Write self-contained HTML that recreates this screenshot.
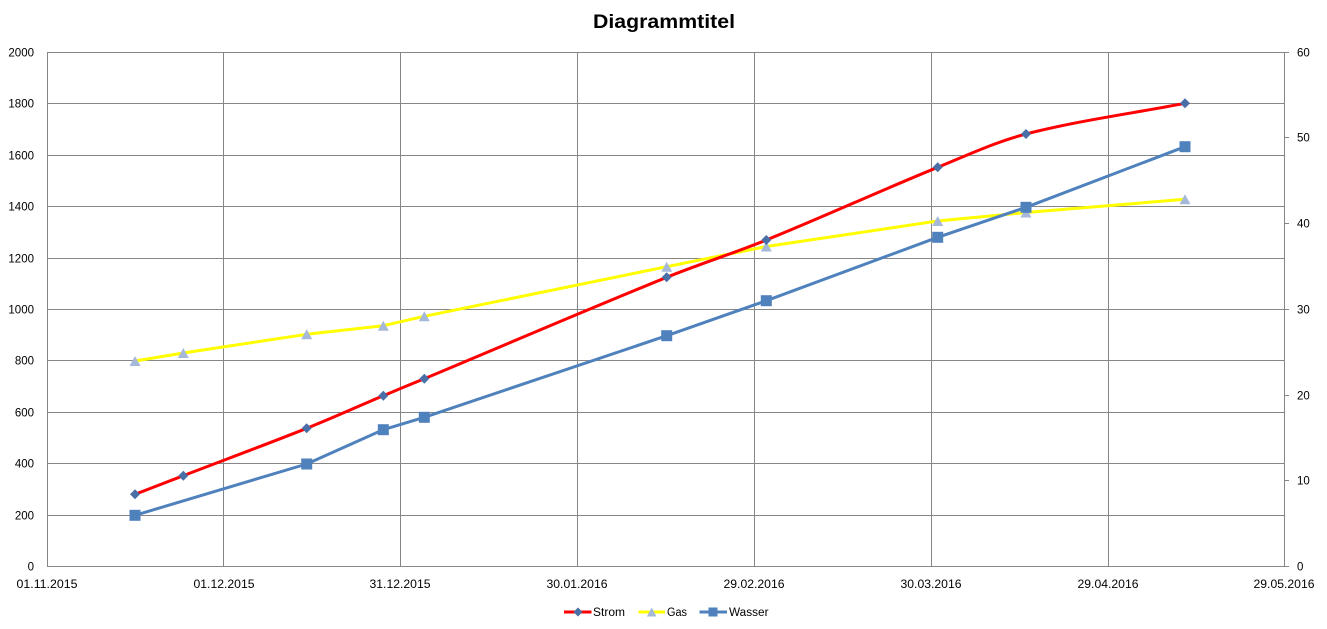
<!DOCTYPE html>
<html>
<head>
<meta charset="utf-8">
<style>
html,body{margin:0;padding:0;background:#fff;}
svg{display:block;}
text{font-family:"Liberation Sans",Arial,sans-serif;fill:#000;}
</style>
</head>
<body>
<svg width="1327" height="629" viewBox="0 0 1327 629" xmlns="http://www.w3.org/2000/svg">
<rect width="1327" height="629" fill="#fff"/>
<text x="664" y="28" text-anchor="middle" font-size="19" font-weight="bold" textLength="142" lengthAdjust="spacingAndGlyphs">Diagrammtitel</text>

<g stroke="#868686" stroke-width="1" fill="none">
<line x1="47" y1="52.5" x2="1289" y2="52.5"/>
<line x1="47" y1="103.5" x2="1284.5" y2="103.5"/>
<line x1="47" y1="155.5" x2="1284.5" y2="155.5"/>
<line x1="47" y1="206.5" x2="1284.5" y2="206.5"/>
<line x1="47" y1="258.5" x2="1284.5" y2="258.5"/>
<line x1="47" y1="309.5" x2="1289" y2="309.5"/>
<line x1="47" y1="360.5" x2="1284.5" y2="360.5"/>
<line x1="47" y1="412.5" x2="1284.5" y2="412.5"/>
<line x1="47" y1="463.5" x2="1284.5" y2="463.5"/>
<line x1="47" y1="515.5" x2="1284.5" y2="515.5"/>
<line x1="47" y1="566.5" x2="1289" y2="566.5"/>
<line x1="1284.5" y1="137.5" x2="1289" y2="137.5"/>
<line x1="1284.5" y1="223.5" x2="1289" y2="223.5"/>
<line x1="1284.5" y1="395.5" x2="1289" y2="395.5"/>
<line x1="1284.5" y1="480.5" x2="1289" y2="480.5"/>
<line x1="47.5" y1="52" x2="47.5" y2="567"/>
<line x1="223.5" y1="52" x2="223.5" y2="567"/>
<line x1="400.5" y1="52" x2="400.5" y2="567"/>
<line x1="577.5" y1="52" x2="577.5" y2="567"/>
<line x1="754.5" y1="52" x2="754.5" y2="567"/>
<line x1="931.5" y1="52" x2="931.5" y2="567"/>
<line x1="1108.5" y1="52" x2="1108.5" y2="567"/>
<line x1="1284.5" y1="52" x2="1284.5" y2="567"/>
</g>

<g font-size="11.5" text-anchor="end">
<text x="34" y="56.5">2000</text>
<text x="34" y="107.5">1800</text>
<text x="34" y="159.5">1600</text>
<text x="34" y="210.5">1400</text>
<text x="34" y="262.5">1200</text>
<text x="34" y="313.5">1000</text>
<text x="34" y="364.5">800</text>
<text x="34" y="416.5">600</text>
<text x="34" y="467.5">400</text>
<text x="34" y="519.5">200</text>
<text x="34" y="570.5">0</text>
</g>
<g font-size="11.5" text-anchor="start">
<text x="1297" y="56.5">60</text>
<text x="1297" y="141.5">50</text>
<text x="1297" y="227.5">40</text>
<text x="1297" y="313.5">30</text>
<text x="1297" y="399.5">20</text>
<text x="1297" y="484.5">10</text>
<text x="1297" y="570.5">0</text>
</g>
<g font-size="11.5" text-anchor="middle">
<text x="47" y="588" textLength="61" lengthAdjust="spacingAndGlyphs">01.11.2015</text>
<text x="224" y="588" textLength="61" lengthAdjust="spacingAndGlyphs">01.12.2015</text>
<text x="400" y="588" textLength="61" lengthAdjust="spacingAndGlyphs">31.12.2015</text>
<text x="577" y="588" textLength="61" lengthAdjust="spacingAndGlyphs">30.01.2016</text>
<text x="754" y="588" textLength="61" lengthAdjust="spacingAndGlyphs">29.02.2016</text>
<text x="931" y="588" textLength="61" lengthAdjust="spacingAndGlyphs">30.03.2016</text>
<text x="1108" y="588" textLength="61" lengthAdjust="spacingAndGlyphs">29.04.2016</text>
<text x="1284" y="588" textLength="61" lengthAdjust="spacingAndGlyphs">29.05.2016</text>
</g>

<!-- Gas line -->
<polyline fill="none" stroke="#FFFF00" stroke-width="3" stroke-linejoin="round" stroke-linecap="round"
points="135,361 183.3,353 306.7,334.3 383.3,325.7 424.3,316.3 666.7,266.7 766.3,246.5 937.7,221 1026,212.5 1185,199.3"/>

<!-- Strom line (smoothed) -->
<path fill="none" stroke="#FF0000" stroke-width="3" stroke-linejoin="round" stroke-linecap="round"
d="M135,494.3 C151.1,488.1 167.2,481.89 183.3,475.7 C224.43,459.89 265.79,444.66 306.7,428.3 C332.47,417.99 357.73,406.48 383.3,395.7 C396.93,389.95 410.65,384.4 424.3,378.7 C505.11,344.94 585.54,310.21 666.7,277.3 C699.55,263.98 733.45,253.33 766.3,240 C823.8,216.66 880.24,190.75 937.7,167.3 C966.83,155.41 995.54,141.88 1026,134 C1078.26,120.48 1132,113.53 1185,103.3"/>

<!-- Wasser line -->
<polyline fill="none" stroke="#4F81BD" stroke-width="3" stroke-linejoin="round" stroke-linecap="round"
points="135,515.3 306.7,464 383.3,429.7 424.3,417.3 666.7,335.7 766.3,300.7 937.7,237.3 1026,207.3 1185,146.7"/>

<!-- Gas markers (triangles) -->
<g fill="#A7B9D8">
<polygon points="135,356 140.5,366 129.5,366"/>
<polygon points="183.3,348 188.8,358 177.8,358"/>
<polygon points="306.7,329.3 312.2,339.3 301.2,339.3"/>
<polygon points="383.3,320.7 388.8,330.7 377.8,330.7"/>
<polygon points="424.3,311.3 429.8,321.3 418.8,321.3"/>
<polygon points="666.7,261.7 672.2,271.7 661.2,271.7"/>
<polygon points="766.3,241.5 771.8,251.5 760.8,251.5"/>
<polygon points="937.7,216 943.2,226 932.2,226"/>
<polygon points="1026,207.5 1031.5,217.5 1020.5,217.5"/>
<polygon points="1185,194.3 1190.5,204.3 1179.5,204.3"/>
</g>

<!-- Strom markers (diamonds) -->
<g fill="#4A6EA6">
<polygon points="135,489.3 140,494.3 135,499.3 130,494.3"/>
<polygon points="183.3,470.7 188.3,475.7 183.3,480.7 178.3,475.7"/>
<polygon points="306.7,423.3 311.7,428.3 306.7,433.3 301.7,428.3"/>
<polygon points="383.3,390.7 388.3,395.7 383.3,400.7 378.3,395.7"/>
<polygon points="424.3,373.7 429.3,378.7 424.3,383.7 419.3,378.7"/>
<polygon points="666.7,272.3 671.7,277.3 666.7,282.3 661.7,277.3"/>
<polygon points="766.3,235 771.3,240 766.3,245 761.3,240"/>
<polygon points="937.7,162.3 942.7,167.3 937.7,172.3 932.7,167.3"/>
<polygon points="1026,129 1031,134 1026,139 1021,134"/>
<polygon points="1185,98.3 1190,103.3 1185,108.3 1180,103.3"/>
</g>

<!-- Wasser markers (squares) -->
<g fill="#4F81BD">
<rect x="129.5" y="509.8" width="11" height="11"/>
<rect x="301.2" y="458.5" width="11" height="11"/>
<rect x="377.8" y="424.2" width="11" height="11"/>
<rect x="418.8" y="411.8" width="11" height="11"/>
<rect x="661.2" y="330.2" width="11" height="11"/>
<rect x="760.8" y="295.2" width="11" height="11"/>
<rect x="932.2" y="231.8" width="11" height="11"/>
<rect x="1020.5" y="201.8" width="11" height="11"/>
<rect x="1179.5" y="141.2" width="11" height="11"/>
</g>

<!-- Legend -->
<line x1="564" y1="612" x2="591.5" y2="612" stroke="#FF0000" stroke-width="3"/>
<polygon points="578,607.5 582.5,612 578,616.5 573.5,612" fill="#4A6EA6"/>
<text x="593" y="616" font-size="11.5" textLength="32" lengthAdjust="spacingAndGlyphs">Strom</text>

<line x1="638.5" y1="612" x2="665" y2="612" stroke="#FFFF00" stroke-width="3"/>
<polygon points="651.7,607.5 656.5,616.5 646.9,616.5" fill="#A7B9D8"/>
<text x="667" y="616" font-size="11.5" textLength="20" lengthAdjust="spacingAndGlyphs">Gas</text>

<line x1="699.5" y1="612" x2="727" y2="612" stroke="#4F81BD" stroke-width="3"/>
<rect x="708.5" y="607.5" width="9" height="9" fill="#4F81BD"/>
<text x="729" y="616" font-size="11.5" textLength="39.5" lengthAdjust="spacingAndGlyphs">Wasser</text>
</svg>
</body>
</html>
